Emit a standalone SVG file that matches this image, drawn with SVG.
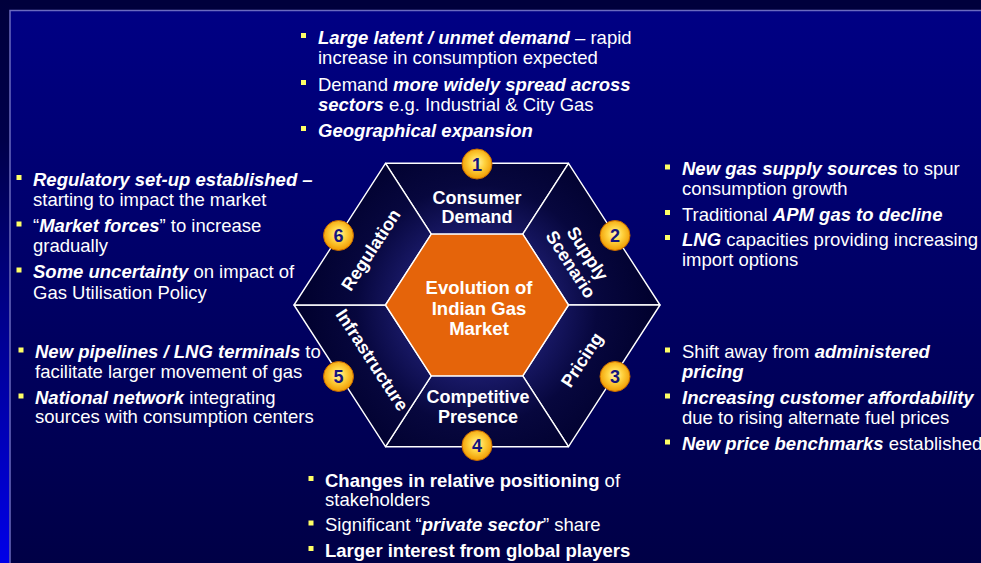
<svg xmlns="http://www.w3.org/2000/svg" xmlns:xlink="http://www.w3.org/1999/xlink" width="981" height="563" viewBox="0 0 981 563">
<style>
.t{font-family:"Liberation Sans",Arial,sans-serif;font-size:18.5px;fill:#ffffff}
.bi{font-weight:bold;font-style:italic}
.b{font-weight:bold}
.lbl{font-family:"Liberation Sans",Arial,sans-serif;font-size:18px;font-weight:bold;fill:#ffffff;text-anchor:middle}
.num{font-family:"Liberation Sans",Arial,sans-serif;font-size:18px;font-weight:bold;fill:#14147c;text-anchor:middle}
.seg{fill:url(#segGrad);stroke:#ffffff;stroke-width:1.4;stroke-linejoin:round}
.badge{fill:url(#badgeGrad);stroke:#c86a00;stroke-width:1}
</style>
<defs>
<linearGradient id="leftStrip" x1="0" y1="0" x2="0" y2="1">
<stop offset="0" stop-color="#00003c"/>
<stop offset="0.25" stop-color="#00004a"/>
<stop offset="1" stop-color="#0000e8"/>
</linearGradient>
<linearGradient id="panel" x1="0" y1="0" x2="0" y2="1">
<stop offset="0" stop-color="#000084"/>
<stop offset="1" stop-color="#000044"/>
</linearGradient>
<radialGradient id="segGrad" gradientUnits="userSpaceOnUse" cx="477" cy="305" r="185">
<stop offset="0.35" stop-color="#1c1c6e"/>
<stop offset="0.65" stop-color="#07073e"/>
<stop offset="1" stop-color="#00002c"/>
</radialGradient>
<radialGradient id="badgeGrad" cx="0.5" cy="0.45" r="0.55">
<stop offset="0" stop-color="#fff6b0"/>
<stop offset="0.45" stop-color="#ffd340"/>
<stop offset="1" stop-color="#f09a00"/>
</radialGradient>
<rect id="blt" width="5" height="5" fill="#ffff66"/>
</defs>

<rect x="0" y="0" width="981" height="563" fill="#00003c"/>
<rect x="0" y="0" width="9.5" height="563" fill="url(#leftStrip)"/>
<rect x="10" y="10.5" width="990" height="570" fill="url(#panel)" stroke="#6a6abf" stroke-width="1.5"/>

<!-- hexagon segments -->
<g id="seg-1">
<polygon class="seg" points="385.5,163.3 568.5,163.3 522.75,234.15 431.25,234.15"/>
<text class="lbl" x="477" y="204">Consumer</text>
<text class="lbl" x="477" y="223">Demand</text>
<circle class="badge" cx="477" cy="164" r="15"/>
<text class="num" x="477" y="170.5">1</text>
</g>
<g id="seg-2">
<polygon class="seg" points="568.5,163.3 660,305 568.5,305 522.75,234.15"/>
<g transform="translate(579,259) rotate(57)">
<text class="lbl" x="0" y="-4">Supply</text>
<text class="lbl" x="0" y="16">Scenario</text>
</g>
<circle class="badge" cx="615" cy="235.5" r="15"/>
<text class="num" x="615" y="242">2</text>
</g>
<g id="seg-3">
<polygon class="seg" points="660,305 568.5,446.7 522.75,375.85 568.5,305"/>
<g transform="translate(582,360) rotate(-57)">
<text class="lbl" x="0" y="6">Pricing</text>
</g>
<circle class="badge" cx="615" cy="376.5" r="15"/>
<text class="num" x="615" y="383">3</text>
</g>
<g id="seg-4">
<polygon class="seg" points="568.5,446.7 385.5,446.7 431.25,375.85 522.75,375.85"/>
<text class="lbl" x="478" y="403">Competitive</text>
<text class="lbl" x="478" y="423">Presence</text>
<circle class="badge" cx="477" cy="445.5" r="15"/>
<text class="num" x="477" y="452">4</text>
</g>
<g id="seg-5">
<polygon class="seg" points="385.5,446.7 294,305 385.5,305 431.25,375.85"/>
<g transform="translate(372,360) rotate(57)">
<text class="lbl" x="0" y="6">Infrastructure</text>
</g>
<circle class="badge" cx="338.5" cy="376.5" r="15"/>
<text class="num" x="338.5" y="383">5</text>
</g>
<g id="seg-6">
<polygon class="seg" points="294,305 385.5,163.3 431.25,234.15 385.5,305"/>
<g transform="translate(371,250) rotate(-57)">
<text class="lbl" x="0" y="6">Regulation</text>
</g>
<circle class="badge" cx="338.5" cy="235.5" r="15"/>
<text class="num" x="338.5" y="242">6</text>
</g>

<g id="center">
<polygon points="431.25,234.15 522.75,234.15 568.5,305 522.75,375.85 431.25,375.85 385.5,305" fill="#e5640a" stroke="#ffffff" stroke-width="1.4"/>
<text class="lbl" x="479" y="294" style="font-size:18.5px">Evolution of</text>
<text class="lbl" x="479" y="314.5" style="font-size:18.5px">Indian Gas</text>
<text class="lbl" x="479" y="335" style="font-size:18.5px">Market</text>
</g>

<g id="connectors"></g>

<!-- text blocks -->
<g id="notes-demand">
<use href="#blt" x="301" y="33"/>
<text class="t" x="318" y="44"><tspan class="bi">Large latent / unmet demand</tspan> – rapid</text>
<text class="t" x="318" y="64">increase in consumption expected</text>
<use href="#blt" x="301" y="80"/>
<text class="t" x="318" y="90.5">Demand <tspan class="bi">more widely spread across</tspan></text>
<text class="t" x="318" y="111"><tspan class="bi">sectors</tspan> e.g. Industrial &amp; City Gas</text>
<use href="#blt" x="301" y="126"/>
<text class="t" x="318" y="136.5"><tspan class="bi">Geographical expansion</tspan></text>
</g>

<g id="notes-regulation">
<use href="#blt" x="16.5" y="175"/>
<text class="t" x="33" y="185.5"><tspan class="bi">Regulatory set-up established –</tspan></text>
<text class="t" x="33" y="206">starting to impact the market</text>
<use href="#blt" x="16.5" y="221.5"/>
<text class="t" x="33" y="232">“<tspan class="bi">Market forces</tspan>” to increase</text>
<text class="t" x="33" y="252">gradually</text>
<use href="#blt" x="16.5" y="267.5"/>
<text class="t" x="33" y="278"><tspan class="bi">Some uncertainty</tspan> on impact of</text>
<text class="t" x="33" y="298.5">Gas Utilisation Policy</text>
</g>

<g id="notes-infrastructure">
<use href="#blt" x="18.5" y="347.5"/>
<text class="t" x="35" y="358"><tspan class="bi">New pipelines / LNG terminals</tspan> to</text>
<text class="t" x="35" y="378">facilitate larger movement of gas</text>
<use href="#blt" x="18.5" y="393.5"/>
<text class="t" x="35" y="404"><tspan class="bi">National network</tspan> integrating</text>
<text class="t" x="35" y="423">sources with consumption centers</text>
</g>

<g id="notes-supply">
<use href="#blt" x="665" y="164.5"/>
<text class="t" x="682" y="175"><tspan class="bi">New gas supply sources</tspan> to spur</text>
<text class="t" x="682" y="195">consumption growth</text>
<use href="#blt" x="665" y="210"/>
<text class="t" x="682" y="220.5">Traditional <tspan class="bi">APM gas to decline</tspan></text>
<use href="#blt" x="665" y="235"/>
<text class="t" x="682" y="245.5"><tspan class="bi">LNG</tspan> capacities providing increasing</text>
<text class="t" x="682" y="265.5">import options</text>
</g>

<g id="notes-pricing">
<use href="#blt" x="665" y="347.5"/>
<text class="t" x="682" y="358">Shift away from <tspan class="bi">administered</tspan></text>
<text class="t" x="682" y="378"><tspan class="bi">pricing</tspan></text>
<use href="#blt" x="665" y="393.5"/>
<text class="t" x="682" y="404"><tspan class="bi">Increasing customer affordability</tspan></text>
<text class="t" x="682" y="424">due to rising alternate fuel prices</text>
<use href="#blt" x="665" y="439.5"/>
<text class="t" x="682" y="450"><tspan class="bi">New price benchmarks</tspan> established</text>
</g>

<g id="notes-competition">
<use href="#blt" x="308.5" y="476"/>
<text class="t" x="325" y="486.5"><tspan class="b">Changes in relative positioning</tspan> of</text>
<text class="t" x="325" y="506">stakeholders</text>
<use href="#blt" x="308.5" y="520.5"/>
<text class="t" x="325" y="531">Significant “<tspan class="bi">private sector</tspan>” share</text>
<use href="#blt" x="308.5" y="546"/>
<text class="t" x="325" y="556.5"><tspan class="b">Larger interest from global players</tspan></text>
</g>
</svg>
